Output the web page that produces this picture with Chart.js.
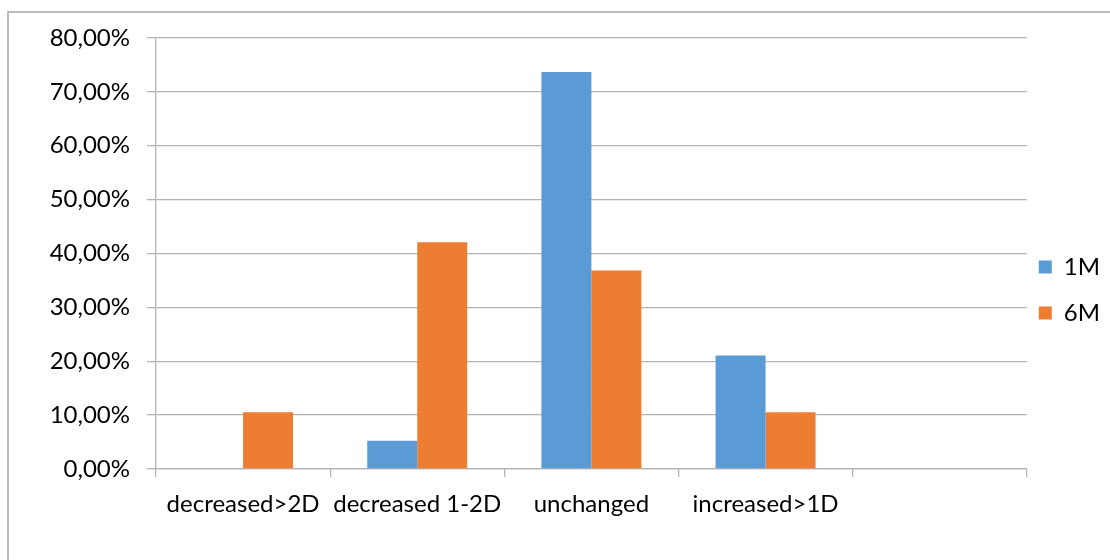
<!DOCTYPE html>
<html lang="en">
<head>
    <meta charset="UTF-8">
    <script src="https://cdn.jsdelivr.net/npm/chart.js"></script>
    <style>
        html, body { margin: 0; padding: 0; background: #fff; }
        #wrap { width: 1110px; height: 560px; position: relative; }
    </style>
</head>
<body>
    <div id="wrap">
        <canvas id="visionChart" width="1110" height="560"></canvas>
    </div>
    <script>
        // categories (last one is an empty slot, as in the original sheet)
        const categories = ['decreased>2D', 'decreased 1-2D', 'unchanged', 'increased>1D', ''];

        // percent of eyes per group
        const oneMonth = [null, 5.26, 73.68, 21.05, null];
        const sixMonth = [10.53, 42.11, 36.84, 10.53, null];

        const seriesNames = ['1M', '6M'];

        // y axis: 0,00% .. 80,00%
        const yMax = 80;
        const yStep = 10;

        const gridGrey = '#b3b3b3';
        const fontFamily = 'Lato, "Open Sans", sans-serif';

        // thin frame on the left and top, like the exported chart box
        const framePlugin = {
            id: 'frame',
            beforeDraw(chart) {
                const ctx = chart.ctx;
                ctx.save();
                ctx.strokeStyle = '#a6a6a6';
                ctx.lineWidth = 1.5;
                ctx.beginPath();
                ctx.moveTo(8, 560);
                ctx.lineTo(8, 12);
                ctx.lineTo(1110, 12);
                ctx.stroke();
                ctx.restore();
            }
        };

        const chart = new Chart(document.getElementById('visionChart'), {
            type: 'bar',
            data: {
                labels: categories,
                datasets: [
                    {
                        label: seriesNames[0],
                        data: oneMonth,
                        backgroundColor: '#5b9bd5',
                        categoryPercentage: 0.574,
                        barPercentage: 1.0
                    },
                    {
                        label: seriesNames[1],
                        data: sixMonth,
                        backgroundColor: '#ed7d31',
                        categoryPercentage: 0.574,
                        barPercentage: 1.0
                    }
                ]
            },
            options: {
                responsive: false,
                animation: false,
                layout: {
                    padding: { top: 38, left: 0, right: 0, bottom: 8 }
                },
                plugins: {
                    tooltip: { enabled: false },
                    legend: {
                        position: 'right',
                        labels: {
                            boxWidth: 13,
                            boxHeight: 13,
                            padding: 12,
                            color: '#000',
                            font: { family: fontFamily, size: 24, lineHeight: 34 / 24 },
                            // one-line arrays so the row step follows the font line height
                            generateLabels(c) {
                                return Chart.defaults.plugins.legend.labels.generateLabels(c)
                                    .map(item => Object.assign(item, { text: [item.text] }));
                            }
                        }
                    }
                },
                scales: {
                    x: {
                        grid: {
                            drawOnChartArea: false,
                            color: gridGrey,
                            tickLength: 8,
                            lineWidth: 1.3
                        },
                        border: { color: gridGrey, width: 1.3 },
                        ticks: {
                            color: '#000',
                            padding: 13,
                            maxRotation: 0,
                            autoSkip: false,
                            font: { family: fontFamily, size: 24 }
                        },
                        afterFit(scale) { scale.height = 83; }
                    },
                    y: {
                        min: 0,
                        max: yMax,
                        grid: {
                            color: gridGrey,
                            tickLength: 9,
                            lineWidth: 1.3
                        },
                        border: { color: gridGrey, width: 1.3 },
                        ticks: {
                            stepSize: yStep,
                            color: '#000',
                            padding: 17,
                            font: { family: fontFamily, size: 24 },
                            callback: v => v.toFixed(2).replace('.', ',') + '%'
                        },
                        afterFit(scale) { scale.width = 156; }
                    }
                }
            },
            plugins: [framePlugin]
        });
    </script>
</body>
</html>
